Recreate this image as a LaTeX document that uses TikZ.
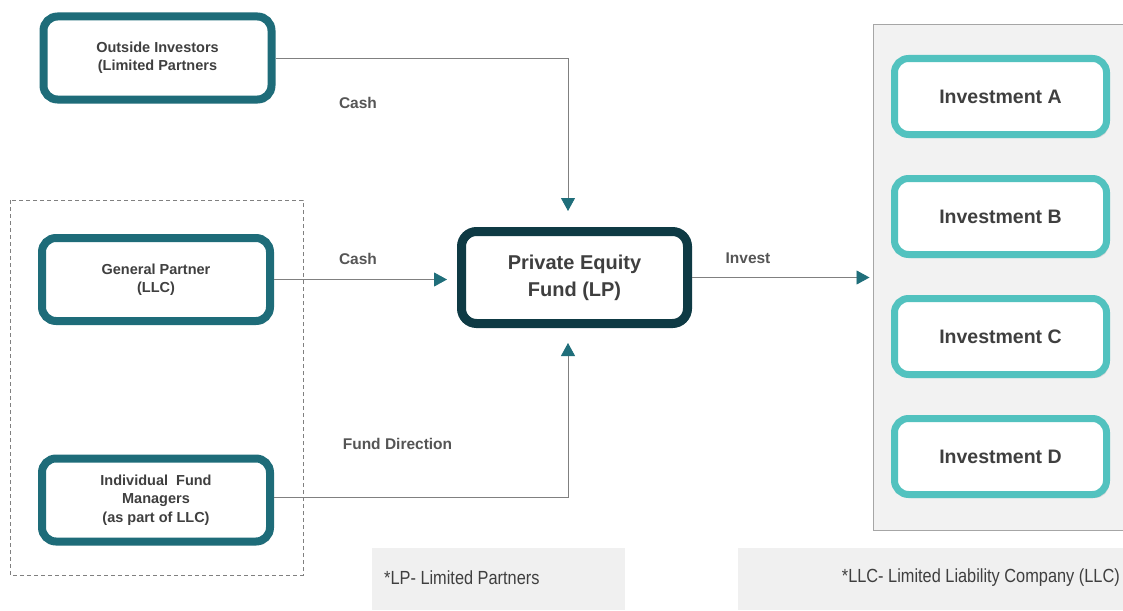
\documentclass[tikz,border=0pt]{standalone}
\usepackage{fontspec}
\setmainfont{Liberation Sans}
\newfontfamily\narrowfont[FakeStretch=0.86]{Liberation Sans}
\usetikzlibrary{arrows.meta,shadows}
\definecolor{tealD}{HTML}{1E6C79}
\definecolor{peD}{HTML}{0E3A44}
\definecolor{invC}{HTML}{52C2BF}
\definecolor{arrT}{HTML}{1F6E7A}
\definecolor{lineG}{HTML}{808080}
\definecolor{txtG}{HTML}{3F3F3F}
\definecolor{lblG}{HTML}{555555}
\definecolor{panelF}{HTML}{F2F2F2}
\definecolor{panelB}{HTML}{A6A6A6}
\definecolor{noteF}{HTML}{F0F0F0}
\tikzset{
  boxshadow/.style={drop shadow={shadow xshift=2.5pt,shadow yshift=-3.5pt,opacity=0.2,fill=black!60}},
  srcbox/.style={draw=tealD,line width=8pt,rounded corners=14pt,fill=white,boxshadow,
    align=center,text=txtG,font=\bfseries\fontsize{14.5}{18.5}\selectfont,
    minimum width=228pt,minimum height=83pt,inner sep=0pt},
  pebox/.style={draw=peD,line width=9pt,rounded corners=15pt,fill=white,boxshadow,
    align=center,text=txtG,font=\bfseries\fontsize{20}{27}\selectfont,
    minimum width=226pt,minimum height=92pt,inner sep=0pt},
  invbox/.style={draw=invC,line width=7pt,rounded corners=14pt,fill=white,boxshadow,
    align=center,text=txtG,font=\bfseries\fontsize{19.5}{22}\selectfont,
    minimum width=212pt,minimum height=76pt,inner sep=0pt},
  flow/.style={draw=lineG,line width=0.9pt,-{Triangle[length=13pt,width=14pt,color=arrT,fill=arrT]}},
  lbl/.style={text=lblG,font=\bfseries\fontsize{15.5}{18}\selectfont,inner sep=0pt},
  note/.style={text=txtG,font=\narrowfont\fontsize{19}{22}\selectfont,inner sep=0pt},
}
\begin{document}
\begin{tikzpicture}[x=1pt,y=-1pt]
\useasboundingbox (0,0) rectangle (1123,610);
% grouping frames
\draw[lineG,line width=0.8pt,dash pattern=on 4pt off 3pt] (10,200) rectangle (303,575);
\node[draw=panelB,fill=panelF,line width=1pt,minimum width=252pt,minimum height=505pt,inner sep=0pt] (panel) at (999,277.5) {};
% footnote boxes
\node[fill=noteF,minimum width=253pt,minimum height=62pt,inner sep=0pt] (lpnote) at (498.5,579) {};
\node[note,anchor=west] (lptxt) at (384,578) {*LP- Limited Partners};
\node[fill=noteF,minimum width=385pt,minimum height=62pt,inner sep=0pt] (llcnote) at (930.5,579) {};
\node[note,anchor=east] (llctxt) at (1120,578) {*LLC- Limited Liability Company (LLC)};
% boxes
\node[srcbox] (oi) at (157.5,58) {Outside Investors\\(Limited Partners};
\node[srcbox] (gp) at (156,279.5) {General Partner\\(LLC)};
\node[srcbox] (ifm) at (156,500) {Individual\ \ Fund\\Managers\\(as part of LLC)};
\node[pebox] (pe) at (574.5,277.5) {Private Equity\\Fund (LP)};
\node[invbox] (ia) at (1000.5,96.5) {Investment A};
\node[invbox] (ib) at (1000.5,216.5) {Investment B};
\node[invbox] (ic) at (1000.5,336.5) {Investment C};
\node[invbox] (id) at (1000.5,456.5) {Investment D};
% connectors
\draw[flow,shorten >=16pt] (oi.east) -| ([xshift=-6.5pt]pe.north);
\draw[flow,shorten >=10pt] (gp.east) -- (gp.east -| pe.west);
\draw[flow,shorten >=15pt] ([yshift=3pt]ifm.east) -| ([xshift=-6.5pt]pe.south);
\draw[flow,shorten >=3pt] (pe.east) -- (pe.east -| panel.west);
% labels
\node[lbl] (l1) at (358,103) {Cash};
\node[lbl] (l2) at (358,259) {Cash};
\node[lbl] (l3) at (397.5,444) {Fund Direction};
\node[lbl] (l4) at (748,258) {Invest};
\end{tikzpicture}
\end{document}
